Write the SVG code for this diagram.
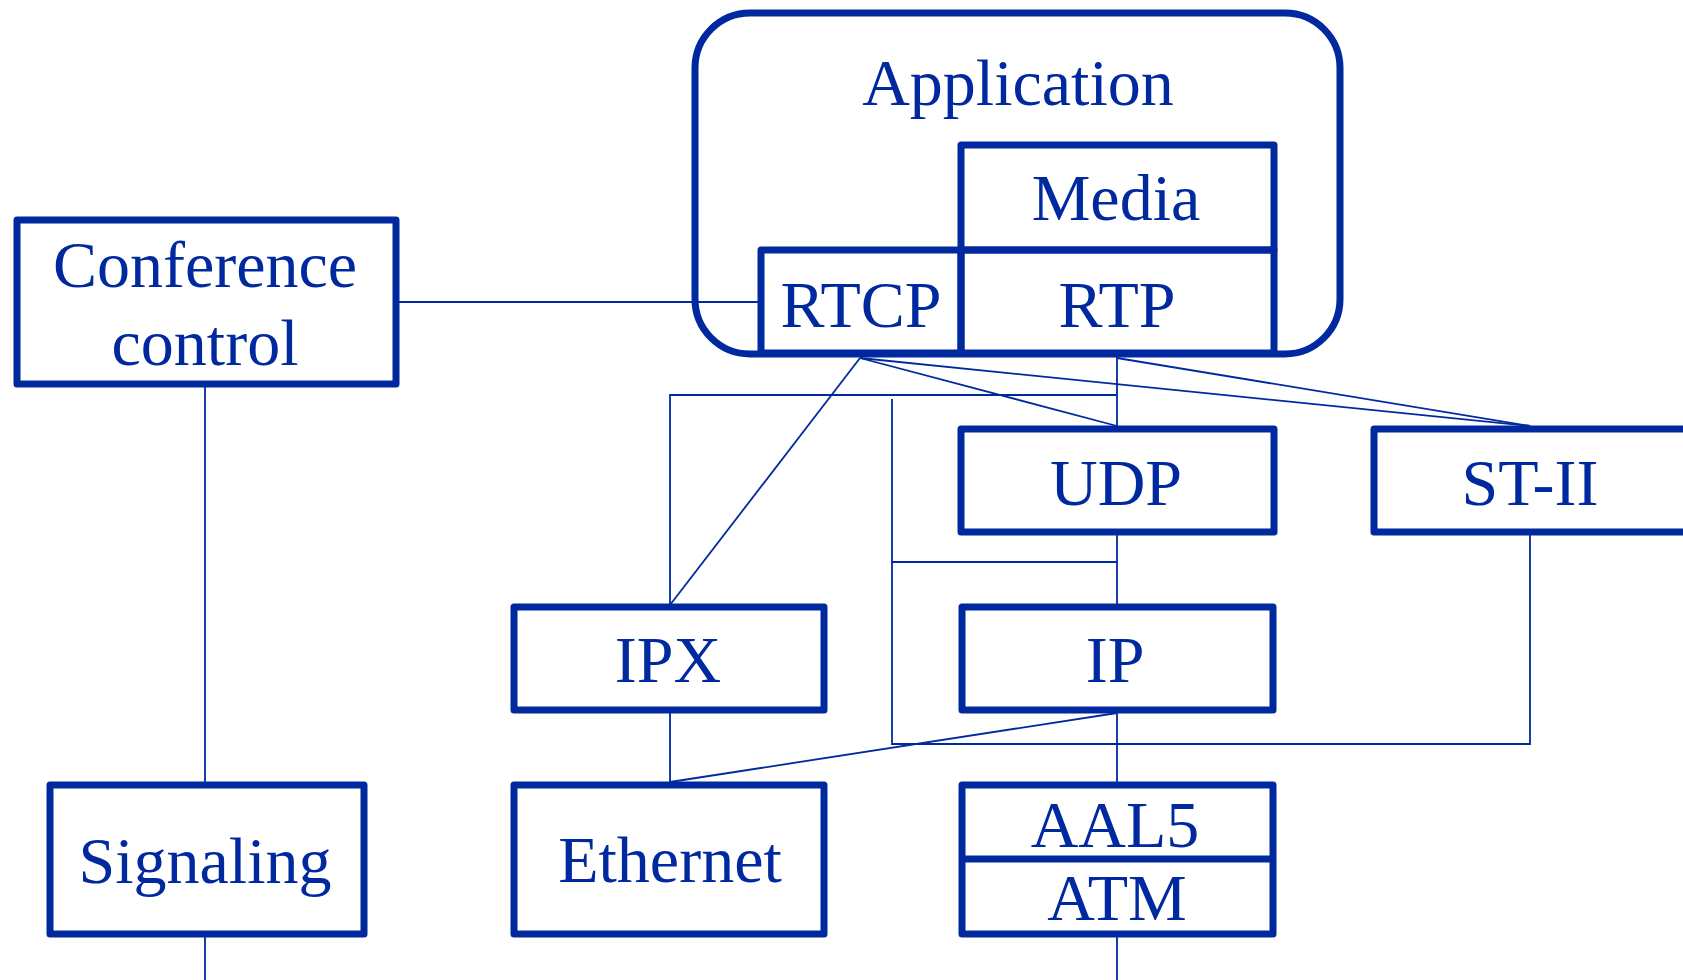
<svg xmlns="http://www.w3.org/2000/svg" width="1683" height="980" viewBox="0 0 1683 980">
<style>
.box{fill:none;stroke:#0029A0;stroke-width:7;stroke-linejoin:round}
.con{fill:none;stroke:#0029A0;stroke-width:1.8}
text{font-family:"Liberation Serif","Times New Roman",serif;font-size:66px;fill:#0029A0;text-anchor:middle}
</style>
<rect width="1683" height="980" fill="#fff"/>
<g id="connectors">
<line class="con" x1="397" y1="302" x2="761" y2="302"/>
<line class="con" x1="205" y1="384" x2="205" y2="785"/>
<line class="con" x1="205" y1="935" x2="205" y2="980"/>
<line class="con" x1="860" y1="358" x2="670" y2="605"/>
<line class="con" x1="860" y1="358" x2="1117" y2="426"/>
<line class="con" x1="860" y1="358" x2="1530" y2="426"/>
<line class="con" x1="1117" y1="358" x2="1530" y2="426"/>
<line class="con" x1="1117" y1="355" x2="1117" y2="429"/>
<polyline class="con" points="1117,395 670,395 670,607"/>
<polyline class="con" points="892,399 892,744 1530,744 1530,532"/>
<line class="con" x1="892" y1="562" x2="1117" y2="562"/>
<line class="con" x1="1117" y1="532" x2="1117" y2="607"/>
<line class="con" x1="1117" y1="710" x2="1117" y2="785"/>
<line class="con" x1="1117" y1="713" x2="670" y2="782"/>
<line class="con" x1="670" y1="710" x2="670" y2="785"/>
<line class="con" x1="1117" y1="934" x2="1117" y2="980"/>
</g>
<g id="application">
<rect class="box" x="695" y="13" width="645" height="341" rx="55" ry="55"/>
<text x="1018" y="105">Application</text>
</g>
<g id="media">
<rect class="box" x="961" y="145" width="313" height="105"/>
<text x="1116" y="220">Media</text>
</g>
<g id="rtcp">
<rect class="box" x="761" y="250" width="200" height="103"/>
<text x="861" y="327">RTCP</text>
</g>
<g id="rtp">
<rect class="box" x="961" y="250" width="313" height="103"/>
<text x="1117" y="327">RTP</text>
</g>
<g id="conference-control">
<rect class="box" x="17" y="220" width="379" height="164"/>
<text x="205" y="287">Conference</text>
<text x="205" y="365">control</text>
</g>
<g id="signaling">
<rect class="box" x="50" y="785" width="314" height="149"/>
<text x="205" y="883">Signaling</text>
</g>
<g id="udp">
<rect class="box" x="961" y="429" width="313" height="103"/>
<text x="1116" y="505">UDP</text>
</g>
<g id="st-ii">
<rect class="box" x="1374" y="429" width="330" height="103"/>
<text x="1530" y="505">ST-II</text>
</g>
<g id="ipx">
<rect class="box" x="514" y="607" width="310" height="103"/>
<text x="668" y="682">IPX</text>
</g>
<g id="ip">
<rect class="box" x="962" y="607" width="311" height="103"/>
<text x="1115" y="682">IP</text>
</g>
<g id="ethernet">
<rect class="box" x="514" y="785" width="310" height="149"/>
<text x="670" y="882">Ethernet</text>
</g>
<g id="aal5-atm">
<rect class="box" x="962" y="785" width="311" height="149"/>
<line class="box" x1="962" y1="859" x2="1273" y2="859"/>
<text x="1115" y="847">AAL5</text>
<text x="1117" y="920">ATM</text>
</g>
</svg>
